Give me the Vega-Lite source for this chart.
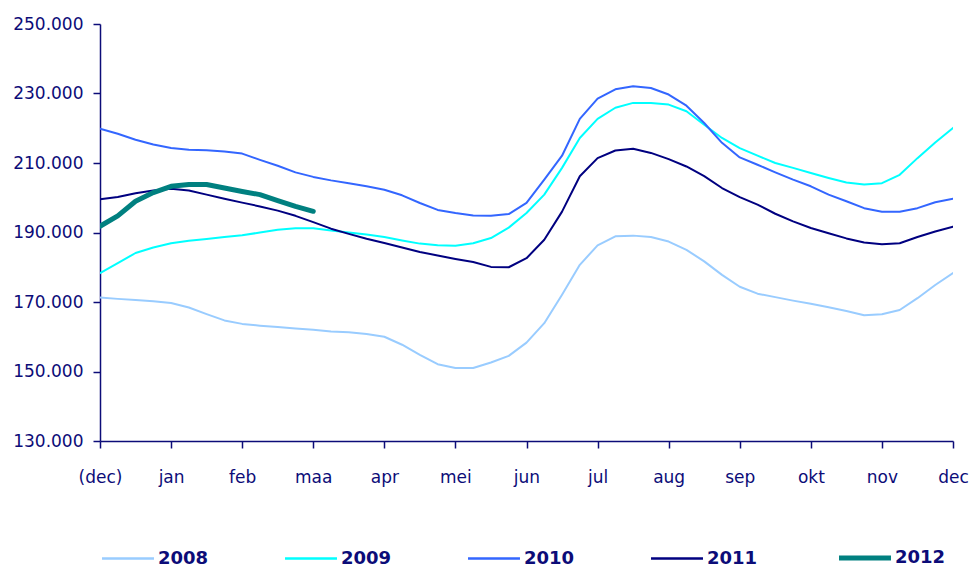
{
  "$schema": "https://vega.github.io/schema/vega-lite/v6.json",
  "width": 853,
  "height": 417,
  "autosize": {"type": "none"},
  "padding": {"left": 100, "top": 24, "right": 21, "bottom": 127},
  "background": "white",
  "config": {
    "view": {"stroke": null},
    "axis": {"grid": false, "domainColor": "#0c0c78", "tickColor": "#0c0c78", "domainWidth": 1.5, "tickWidth": 1.5, "tickSize": 7, "labelColor": "#0c0c78", "labelFont": "DejaVu Sans", "labelFontSize": 17, "title": null}
  },
  "data": {"values": [
    {"year":"2008","m":0,"v":171300},{"year":"2008","m":0.25,"v":170900},{"year":"2008","m":0.5,"v":170600},{"year":"2008","m":0.75,"v":170200},
    {"year":"2008","m":1,"v":169700},{"year":"2008","m":1.25,"v":168400},{"year":"2008","m":1.5,"v":166500},{"year":"2008","m":1.75,"v":164700},
    {"year":"2008","m":2,"v":163700},{"year":"2008","m":2.25,"v":163200},{"year":"2008","m":2.5,"v":162800},{"year":"2008","m":2.75,"v":162400},
    {"year":"2008","m":3,"v":162000},{"year":"2008","m":3.25,"v":161500},{"year":"2008","m":3.5,"v":161300},{"year":"2008","m":3.75,"v":160800},
    {"year":"2008","m":4,"v":160000},{"year":"2008","m":4.25,"v":157700},{"year":"2008","m":4.5,"v":154800},{"year":"2008","m":4.75,"v":152100},
    {"year":"2008","m":5,"v":151000},{"year":"2008","m":5.25,"v":151000},{"year":"2008","m":5.5,"v":152600},{"year":"2008","m":5.75,"v":154500},
    {"year":"2008","m":6,"v":158300},{"year":"2008","m":6.25,"v":163900},{"year":"2008","m":6.5,"v":172100},{"year":"2008","m":6.75,"v":180700},
    {"year":"2008","m":7,"v":186300},{"year":"2008","m":7.25,"v":188900},{"year":"2008","m":7.5,"v":189100},{"year":"2008","m":7.75,"v":188700},
    {"year":"2008","m":8,"v":187400},{"year":"2008","m":8.25,"v":185000},{"year":"2008","m":8.5,"v":181700},{"year":"2008","m":8.75,"v":177800},
    {"year":"2008","m":9,"v":174400},{"year":"2008","m":9.25,"v":172400},{"year":"2008","m":9.5,"v":171400},{"year":"2008","m":9.75,"v":170400},
    {"year":"2008","m":10,"v":169500},{"year":"2008","m":10.25,"v":168500},{"year":"2008","m":10.5,"v":167400},{"year":"2008","m":10.75,"v":166200},
    {"year":"2008","m":11,"v":166500},{"year":"2008","m":11.25,"v":167700},{"year":"2008","m":11.5,"v":171100},{"year":"2008","m":11.75,"v":174900},
    {"year":"2008","m":12,"v":178300},

    {"year":"2009","m":0,"v":178300},{"year":"2009","m":0.25,"v":181200},{"year":"2009","m":0.5,"v":184100},{"year":"2009","m":0.75,"v":185700},
    {"year":"2009","m":1,"v":186900},{"year":"2009","m":1.25,"v":187600},{"year":"2009","m":1.5,"v":188100},{"year":"2009","m":1.75,"v":188700},
    {"year":"2009","m":2,"v":189200},{"year":"2009","m":2.25,"v":190000},{"year":"2009","m":2.5,"v":190800},{"year":"2009","m":2.75,"v":191200},
    {"year":"2009","m":3,"v":191200},{"year":"2009","m":3.25,"v":190600},{"year":"2009","m":3.5,"v":190000},{"year":"2009","m":3.75,"v":189400},
    {"year":"2009","m":4,"v":188700},{"year":"2009","m":4.25,"v":187700},{"year":"2009","m":4.5,"v":186800},{"year":"2009","m":4.75,"v":186300},
    {"year":"2009","m":5,"v":186200},{"year":"2009","m":5.25,"v":186900},{"year":"2009","m":5.5,"v":188400},{"year":"2009","m":5.75,"v":191400},
    {"year":"2009","m":6,"v":195600},{"year":"2009","m":6.25,"v":200900},{"year":"2009","m":6.5,"v":208600},{"year":"2009","m":6.75,"v":217200},
    {"year":"2009","m":7,"v":222700},{"year":"2009","m":7.25,"v":225900},{"year":"2009","m":7.5,"v":227300},{"year":"2009","m":7.75,"v":227300},
    {"year":"2009","m":8,"v":226800},{"year":"2009","m":8.25,"v":224900},{"year":"2009","m":8.5,"v":221000},{"year":"2009","m":8.75,"v":217200},
    {"year":"2009","m":9,"v":214300},{"year":"2009","m":9.25,"v":212100},{"year":"2009","m":9.5,"v":210000},{"year":"2009","m":9.75,"v":208600},
    {"year":"2009","m":10,"v":207100},{"year":"2009","m":10.25,"v":205700},{"year":"2009","m":10.5,"v":204400},{"year":"2009","m":10.75,"v":203800},
    {"year":"2009","m":11,"v":204200},{"year":"2009","m":11.25,"v":206600},{"year":"2009","m":11.5,"v":211400},{"year":"2009","m":11.75,"v":215900},
    {"year":"2009","m":12,"v":220100},

    {"year":"2010","m":0,"v":219900},{"year":"2010","m":0.25,"v":218400},{"year":"2010","m":0.5,"v":216700},{"year":"2010","m":0.75,"v":215300},
    {"year":"2010","m":1,"v":214300},{"year":"2010","m":1.25,"v":213800},{"year":"2010","m":1.5,"v":213700},{"year":"2010","m":1.75,"v":213300},
    {"year":"2010","m":2,"v":212700},{"year":"2010","m":2.25,"v":210900},{"year":"2010","m":2.5,"v":209200},{"year":"2010","m":2.75,"v":207300},
    {"year":"2010","m":3,"v":206000},{"year":"2010","m":3.25,"v":205000},{"year":"2010","m":3.5,"v":204200},{"year":"2010","m":3.75,"v":203300},
    {"year":"2010","m":4,"v":202300},{"year":"2010","m":4.25,"v":200700},{"year":"2010","m":4.5,"v":198500},{"year":"2010","m":4.75,"v":196500},
    {"year":"2010","m":5,"v":195600},{"year":"2010","m":5.25,"v":194900},{"year":"2010","m":5.5,"v":194800},{"year":"2010","m":5.75,"v":195300},
    {"year":"2010","m":6,"v":198500},{"year":"2010","m":6.25,"v":205200},{"year":"2010","m":6.5,"v":212100},{"year":"2010","m":6.75,"v":222700},
    {"year":"2010","m":7,"v":228500},{"year":"2010","m":7.25,"v":231200},{"year":"2010","m":7.5,"v":232100},{"year":"2010","m":7.75,"v":231600},
    {"year":"2010","m":8,"v":229700},{"year":"2010","m":8.25,"v":226500},{"year":"2010","m":8.5,"v":221500},{"year":"2010","m":8.75,"v":215800},
    {"year":"2010","m":9,"v":211600},{"year":"2010","m":9.25,"v":209500},{"year":"2010","m":9.5,"v":207300},{"year":"2010","m":9.75,"v":205200},
    {"year":"2010","m":10,"v":203300},{"year":"2010","m":10.25,"v":200900},{"year":"2010","m":10.5,"v":199000},{"year":"2010","m":10.75,"v":197000},
    {"year":"2010","m":11,"v":196000},{"year":"2010","m":11.25,"v":196000},{"year":"2010","m":11.5,"v":197000},{"year":"2010","m":11.75,"v":198700},
    {"year":"2010","m":12,"v":199700},

    {"year":"2011","m":0,"v":199600},{"year":"2011","m":0.25,"v":200200},{"year":"2011","m":0.5,"v":201300},{"year":"2011","m":0.75,"v":202100},
    {"year":"2011","m":1,"v":202600},{"year":"2011","m":1.25,"v":202100},{"year":"2011","m":1.5,"v":200900},{"year":"2011","m":1.75,"v":199700},
    {"year":"2011","m":2,"v":198600},{"year":"2011","m":2.25,"v":197500},{"year":"2011","m":2.5,"v":196300},{"year":"2011","m":2.75,"v":194800},
    {"year":"2011","m":3,"v":193000},{"year":"2011","m":3.25,"v":191100},{"year":"2011","m":3.5,"v":189600},{"year":"2011","m":3.75,"v":188200},
    {"year":"2011","m":4,"v":187000},{"year":"2011","m":4.25,"v":185700},{"year":"2011","m":4.5,"v":184400},{"year":"2011","m":4.75,"v":183400},
    {"year":"2011","m":5,"v":182400},{"year":"2011","m":5.25,"v":181500},{"year":"2011","m":5.5,"v":180100},{"year":"2011","m":5.75,"v":180000},
    {"year":"2011","m":6,"v":182600},{"year":"2011","m":6.25,"v":187900},{"year":"2011","m":6.5,"v":196000},{"year":"2011","m":6.75,"v":206200},
    {"year":"2011","m":7,"v":211400},{"year":"2011","m":7.25,"v":213600},{"year":"2011","m":7.5,"v":214100},{"year":"2011","m":7.75,"v":212900},
    {"year":"2011","m":8,"v":211100},{"year":"2011","m":8.25,"v":209000},{"year":"2011","m":8.5,"v":206200},{"year":"2011","m":8.75,"v":202800},
    {"year":"2011","m":9,"v":200200},{"year":"2011","m":9.25,"v":198000},{"year":"2011","m":9.5,"v":195400},{"year":"2011","m":9.75,"v":193200},
    {"year":"2011","m":10,"v":191300},{"year":"2011","m":10.25,"v":189800},{"year":"2011","m":10.5,"v":188300},{"year":"2011","m":10.75,"v":187100},
    {"year":"2011","m":11,"v":186600},{"year":"2011","m":11.25,"v":186900},{"year":"2011","m":11.5,"v":188700},{"year":"2011","m":11.75,"v":190300},
    {"year":"2011","m":12,"v":191700},

    {"year":"2012","m":0,"v":191800},{"year":"2012","m":0.25,"v":194800},{"year":"2012","m":0.5,"v":199000},{"year":"2012","m":0.75,"v":201500},
    {"year":"2012","m":1,"v":203300},{"year":"2012","m":1.25,"v":203800},{"year":"2012","m":1.5,"v":203800},{"year":"2012","m":1.75,"v":202800},
    {"year":"2012","m":2,"v":201800},{"year":"2012","m":2.25,"v":200900},{"year":"2012","m":2.5,"v":199200},{"year":"2012","m":2.75,"v":197500},
    {"year":"2012","m":3,"v":196100}
  ]},
  "mark": {"type": "line", "clip": true, "strokeCap": "round", "strokeJoin": "round"},
  "encoding": {
    "x": {
      "field": "m", "type": "quantitative",
      "scale": {"domain": [0, 12], "nice": false, "zero": false},
      "axis": {
        "values": [0,1,2,3,4,5,6,7,8,9,10,11,12],
        "labelExpr": "['(dec)','jan','feb','maa','apr','mei','jun','jul','aug','sep','okt','nov','dec'][datum.value]",
        "labelPadding": 21,
        "labelFlush": false,
        "labelOverlap": false
      }
    },
    "y": {
      "field": "v", "type": "quantitative",
      "scale": {"domain": [130000, 250000], "nice": false, "zero": false},
      "axis": {
        "values": [130000,150000,170000,190000,210000,230000,250000],
        "format": ",.0f",
        "labelExpr": "replace(datum.label, ',', '.')",
        "labelPadding": 10,
        "labelFlush": false
      }
    },
    "color": {
      "field": "year", "type": "nominal",
      "scale": {"domain": ["2008","2009","2010","2011","2012"], "range": ["#99CCFF","#00FFFF","#3366FF","#000080","#008080"]},
      "legend": {
        "title": null,
        "orient": "none",
        "direction": "horizontal",
        "columns": 5,
        "legendX": 19,
        "legendY": 525,
        "symbolType": "stroke",
        "symbolSize": 2700,
        "symbolStrokeWidth": 5,
        "labelFont": "DejaVu Sans",
        "labelFontWeight": "bold",
        "labelFontSize": 18,
        "labelColor": "#0c0c78",
        "labelOffset": 21,
        "columnPadding": 71,
        "encode": {"symbols": {"update": {"strokeWidth": {"signal": "datum.value === '2012' ? 5 : 2.5"}}}}
      }
    },
    "strokeWidth": {"condition": {"test": "datum.year === '2012'", "value": 5}, "value": 2},
    "order": {"field": "m", "type": "quantitative"}
  }
}
